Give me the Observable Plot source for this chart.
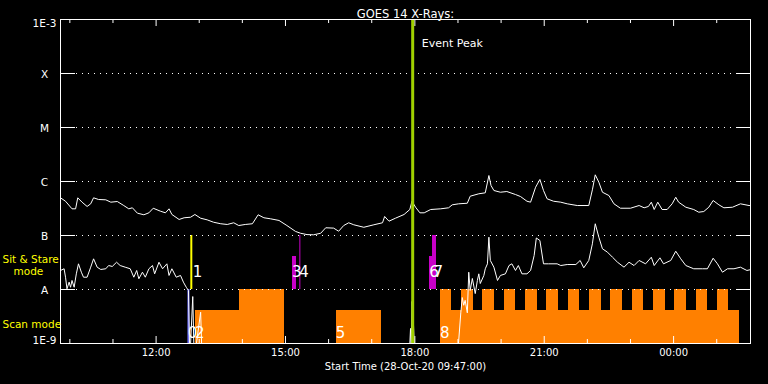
<!DOCTYPE html>
<html><head><meta charset="utf-8">
<script src="https://cdn.jsdelivr.net/npm/d3@7"></script>
<script src="https://cdn.jsdelivr.net/npm/@observablehq/plot@0.6"></script>
<style>html,body{margin:0;padding:0;background:#000;} #chart svg{display:block}</style>
</head><body><div id="chart"></div>
<script>
// ---------- data ----------
const startTime = "2020-10-28T09:47:00Z";
const endTime = "2020-10-29T01:47:00Z";
const titleText = "GOES 14 X-Rays:";
const xLabelText = "Start Time (28-Oct-20 09:47:00)";

// GOES long channel (1-8 A), W/m^2
const longTimes = ["09:47","09:54","10:03","10:08","10:11","10:17","10:24","10:29","10:33","10:40","10:50","10:57","11:06","11:15","11:22","11:27","11:34","11:43","11:50","11:56","12:06","12:13","12:18","12:22","12:32","12:39","12:48","12:54","13:02","13:11","13:20","13:30","13:39","13:48","13:55","14:04","14:14","14:22","14:30","14:39","14:51","15:02","15:14","15:21","15:30","15:39","15:49","15:56","16:07","16:14","16:21","16:28","16:35","16:49","17:03","17:15","17:18","17:24","17:33","17:45","17:53","17:56","18:01","18:07","18:13","18:22","18:36","18:47","18:52","19:01","19:13","19:17","19:29","19:38","19:43","19:46","19:50","19:59","20:08","20:20","20:27","20:36","20:41","20:48","20:54","20:59","21:04","21:13","21:23","21:32","21:46","22:02","22:07","22:11","22:16","22:21","22:30","22:37","22:46","23:00","23:12","23:19","23:25","23:29","23:33","23:38","23:44","23:51","23:58","00:03","00:07","00:17","00:28","00:35","00:42","00:49","00:55","01:03","01:10","01:22","01:33","01:45","01:47"];
const longFlux = [4.99e-7,4.31e-7,3.12e-7,3.12e-7,4.99e-7,4.14e-7,3.45e-7,3.86e-7,4.99e-7,4.64e-7,4.58e-7,4.14e-7,4.26e-7,3.59e-7,3.12e-7,3.26e-7,2.59e-7,2.42e-7,2.63e-7,3.20e-7,2.82e-7,2.63e-7,3.12e-7,2.45e-7,1.98e-7,2.13e-7,2.18e-7,2.45e-7,2.09e-7,1.95e-7,1.76e-7,1.65e-7,1.60e-7,1.72e-7,1.53e-7,1.60e-7,1.65e-7,2.42e-7,2.13e-7,2.04e-7,1.90e-7,1.53e-7,1.19e-7,1.10e-7,1.04e-7,1.03e-7,1.10e-7,1.39e-7,1.37e-7,1.20e-7,1.53e-7,1.72e-7,1.58e-7,1.42e-7,1.58e-7,1.72e-7,2.25e-7,1.84e-7,2.09e-7,2.45e-7,3.03e-7,4.31e-7,3.34e-7,2.63e-7,2.63e-7,3.03e-7,3.12e-7,3.26e-7,3.70e-7,3.86e-7,3.96e-7,5.34e-7,5.92e-7,6.17e-7,1.29e-6,8.42e-7,6.81e-7,6.33e-7,6.52e-7,5.74e-7,5.27e-7,4.31e-7,4.14e-7,7.83e-7,1.09e-6,6.81e-7,4.78e-7,4.31e-7,4.14e-7,3.86e-7,3.59e-7,3.59e-7,7.01e-7,1.33e-6,9.7e-7,6.33e-7,5.50e-7,3.86e-7,3.20e-7,3.20e-7,3.59e-7,3.26e-7,3.45e-7,4.14e-7,3.03e-7,4.14e-7,3.03e-7,3.03e-7,3.86e-7,5.11e-7,4.14e-7,3.34e-7,3.03e-7,2.70e-7,2.78e-7,3.34e-7,4.45e-7,3.70e-7,3.26e-7,3.34e-7,3.86e-7,3.59e-7,3.60e-7];

// GOES short channel (0.5-4 A), W/m^2 (null = no data)
const shortTimes = ["09:47","09:52","09:54","09:56","09:59","10:01","10:03","10:06","10:09","10:12","10:16","10:19","10:24","10:29","10:33","10:38","10:43","10:50","10:54","10:59","11:05","11:10","11:17","11:24","11:29","11:33","11:36","11:41","11:45","11:50","11:55","11:58","12:04","12:09","12:15","12:18","12:22","12:28","12:34","12:38","12:42","12:45","12:47","12:51","12:53","13:02","13:04","15:00","17:52","17:54","17:55","17:56","17:58","18:00","18:30","18:59","19:04","19:06","19:08","19:10","19:13","19:15","19:17","19:20","19:24","19:27","19:29","19:31","19:36","19:38","19:41","19:43","19:45","19:50","19:55","19:59","20:06","20:11","20:15","20:20","20:24","20:29","20:36","20:41","20:46","20:49","20:54","20:59","21:06","21:18","21:23","21:32","21:44","21:50","21:55","22:02","22:07","22:11","22:16","22:21","22:28","22:35","22:42","22:51","22:58","23:05","23:12","23:21","23:29","23:33","23:41","23:46","23:56","00:03","00:10","00:17","00:28","00:40","00:47","00:55","01:01","01:08","01:15","01:24","01:33","01:42","01:47"];
const shortFlux = [2.25e-8,2.42e-8,1.69e-8,1.03e-8,1.37e-8,1.10e-8,1.47e-8,1.10e-8,1.95e-8,2.99e-8,2.09e-8,1.69e-8,1.69e-8,2.59e-8,3.70e-8,2.59e-8,2.35e-8,2.42e-8,2.78e-8,2.67e-8,3.20e-8,2.78e-8,2.59e-8,2.42e-8,1.69e-8,2.25e-8,1.58e-8,2.09e-8,1.69e-8,2.42e-8,2.78e-8,1.95e-8,3.20e-8,2.42e-8,2.99e-8,1.82e-8,2.42e-8,1.69e-8,1.82e-8,1.37e-8,1.10e-8,9.6e-9,5e-10,7.4e-9,5e-10,3.8e-9,5e-10,null,5e-10,1.9e-9,8e-10,6.0e-9,2.5e-9,5e-10,null,5e-10,3.8e-9,7.1e-9,5.1e-9,6.3e-9,3.7e-9,2.09e-8,9.6e-9,1.6e-8,8.4e-9,1.47e-8,1.95e-8,1.29e-8,1.82e-8,2.42e-8,2.99e-8,9.3e-8,3.45e-8,2.59e-8,1.47e-8,1.82e-8,1.95e-8,2.78e-8,2.99e-8,2.25e-8,2.78e-8,1.95e-8,1.95e-8,2.25e-8,4.26e-8,9.0e-8,8.08e-8,2.99e-8,2.99e-8,2.99e-8,2.78e-8,2.90e-8,2.90e-8,3.45e-8,2.52e-8,3.45e-8,7.01e-8,1.65e-7,9.3e-8,5.67e-8,4.91e-8,3.96e-8,3.20e-8,2.59e-8,3.20e-8,2.78e-8,3.45e-8,2.99e-8,3.96e-8,2.78e-8,3.86e-8,2.99e-8,3.45e-8,5.11e-8,3.70e-8,2.78e-8,2.42e-8,2.42e-8,2.42e-8,3.80e-8,2.99e-8,2.09e-8,2.42e-8,2.42e-8,2.59e-8,2.25e-8,2.33e-8];

// Scan mode blocks (orange)
const scanStart = ["12:55","13:56","16:11","18:36","18:51","19:05","19:22","19:34","19:51","20:05","20:20","20:34","20:51","21:03","21:20","21:34","21:49","22:03","22:20","22:32","22:49","23:03","23:18","23:32","23:49","00:01","00:18","00:32","00:47","01:01","01:16"];
const scanEnd   = ["13:56","14:59","17:14","18:51","19:05","19:22","19:34","19:51","20:05","20:20","20:34","20:51","21:03","21:20","21:34","21:49","22:03","22:20","22:32","22:49","23:03","23:18","23:32","23:49","00:01","00:18","00:32","00:47","01:01","01:16","01:32"];
const scanTop   = [4.1e-9,1e-8,4.1e-9,1e-8,4.1e-9,1e-8,4.1e-9,1e-8,4.1e-9,1e-8,4.1e-9,1e-8,4.1e-9,1e-8,4.1e-9,1e-8,4.1e-9,1e-8,4.1e-9,1e-8,4.1e-9,1e-8,4.1e-9,1e-8,4.1e-9,1e-8,4.1e-9,1e-8,4.1e-9,1e-8,4.1e-9];

// Sit & stare blocks (magenta)
const stareStart = ["15:10","18:20","18:24"];
const stareEnd   = ["15:15","18:30","18:30"];
const stareTop   = [4.1e-8,4.1e-8,1e-7];

// Single-time markers
const blueTime = "12:45";
const yellowTime = "12:49";
const magentaTime = "15:20";
const peakTime = "17:57";
const peakText = "Event Peak";

// Event numbers
const eventLabels = ["0","1","2","3","4","5","6","7","8"];
const eventTimes  = ["12:44","12:51","12:54","15:09","15:19","16:10","18:20","18:26","18:35"];
const eventFlux   = [1.53e-9,2.07e-8,1.53e-9,2.07e-8,2.07e-8,1.53e-9,2.07e-8,2.07e-8,1.53e-9];

// Axes
const yTickValues = [1e-9,1e-8,1e-7,1e-6,1e-5,1e-4,1e-3];
const yTickLabels = ["1E-9","A","B","C","M","X","1E-3"];
const majorTickTimes = ["12:00","15:00","18:00","21:00","00:00"];
const minorTickTimes = ["10:00","11:00","13:00","14:00","16:00","17:00","19:00","20:00","22:00","23:00","01:00"];

// ---------- helpers ----------
function toDate(hm) {
  const [h, m] = hm.split(":").map(Number);
  const day = h < 9 ? 29 : 28;
  return new Date(Date.UTC(2020, 9, day, h, m));
}
const longData = longTimes.map((t, i) => ({t: toDate(t), f: longFlux[i]}));
const shortData = shortTimes.map((t, i) => ({t: toDate(t), f: shortFlux[i]}));
const scanData = scanStart.map((s, i) => ({a: toDate(s), b: toDate(scanEnd[i]), top: scanTop[i]}));
const stareData = stareStart.map((s, i) => ({a: toDate(s), b: toDate(stareEnd[i]), top: stareTop[i]}));
const eventData = eventLabels.map((l, i) => ({l, t: toDate(eventTimes[i]), f: eventFlux[i]}));
const yMid = yTickValues.slice(1, -1).map((v, i) => ({v, l: yTickLabels[i + 1]}));
const majors = majorTickTimes.map(toDate);
const minors = minorTickTimes.map(toDate);

const FONT = "DejaVu Sans";
const W = "#ffffff";

const chart = Plot.plot({
  width: 768, height: 384,
  marginLeft: 60, marginRight: 18, marginTop: 19, marginBottom: 41,
  style: {background: "#000", color: W, fontFamily: FONT, fontSize: "10px", overflow: "visible"},
  x: {type: "utc", domain: [new Date(startTime), new Date(endTime)], axis: null},
  y: {type: "log", domain: [1e-9, 1e-3], axis: null},
  marks: [
    // scan-mode blocks
    Plot.rect(scanData, {x1: "a", x2: "b", y1: () => 1e-9, y2: "top", fill: "#ff8000", shapeRendering: "crispEdges"}),
    // sit & stare blocks
    Plot.rect(stareData, {x1: "a", x2: "b", y1: () => 1e-8, y2: "top", fill: "#c800c8", shapeRendering: "crispEdges"}),
    Plot.ruleX([toDate(magentaTime)], {x: d => d, y1: 1e-8, y2: 1e-7, stroke: "#c800c8", strokeWidth: 1}),
    Plot.ruleX([toDate(blueTime)], {x: d => d, y1: 1e-9, y2: 1e-8, stroke: "#7070ff", strokeWidth: 2}),
    Plot.ruleX([toDate(yellowTime)], {x: d => d, y1: 1e-8, y2: 1e-7, stroke: "#ffff00", strokeWidth: 2}),
    // grid
    Plot.tickY(yMid, {y: "v", stroke: W, strokeDasharray: "1,5", insetLeft: 16, insetRight: 15}),
    Plot.tickY(yMid, {y: "v", stroke: W, insetRight: 675}),
    Plot.tickY(yMid, {y: "v", stroke: W, insetLeft: 676}),
    // x ticks
    Plot.tickX(majors, {x: d => d, stroke: W, insetTop: 317}),
    Plot.tickX(minors, {x: d => d, stroke: W, insetTop: 320}),
    Plot.tickX(majors, {x: d => d, stroke: W, insetBottom: 317}),
    Plot.tickX(minors, {x: d => d, stroke: W, insetBottom: 320}),
    // curves
    Plot.line(longData, {x: "t", y: "f", stroke: W, strokeWidth: 1, clip: "frame"}),
    Plot.line(shortData, {x: "t", y: "f", stroke: W, strokeWidth: 1, clip: "frame"}),
    // event peak
    Plot.ruleX([toDate(peakTime)], {x: d => d, stroke: "#a0d000", strokeWidth: 3}),
    Plot.text([toDate(peakTime)], {x: d => d, y: () => 3.6e-4, text: () => peakText, dx: 9, textAnchor: "start", fill: W, fontSize: 11}),
    // event numbers
    Plot.text(eventData, {x: "t", y: "f", text: "l", textAnchor: "start", fill: W, fontSize: 15}),
    Plot.frame({stroke: W}),
    // y labels
    Plot.text(yMid, {y: "v", text: "l", frameAnchor: "left", dx: -16, dy: 1, textAnchor: "middle", fill: W, fontSize: 10.5}),
    Plot.text([yTickLabels[6]], {y: () => yTickValues[6], text: d => d, frameAnchor: "left", dx: -16, lineAnchor: "top", textAnchor: "middle", fill: W, fontSize: 10.5}),
    Plot.text([yTickLabels[0]], {y: () => yTickValues[0], text: d => d, frameAnchor: "left", dx: -16, lineAnchor: "bottom", textAnchor: "middle", fill: W, fontSize: 10.5}),
    // mode labels
    Plot.text(["Sit & Stare"], {y: () => 3.6e-8, text: d => d, frameAnchor: "left", dx: -58, textAnchor: "start", fill: "#ffff00", fontSize: 10.5}),
    Plot.text(["mode"], {y: () => 2.15e-8, text: d => d, frameAnchor: "left", dx: -47, textAnchor: "start", fill: "#ffff00", fontSize: 10.5}),
    Plot.text(["Scan mode"], {y: () => 2.25e-9, text: d => d, frameAnchor: "left", dx: -58, textAnchor: "start", fill: "#ffff00", fontSize: 10.5}),
    // x labels
    Plot.text(majors, {x: d => d, text: (d, i) => majorTickTimes[i], frameAnchor: "bottom", dy: 12, fill: W, fontSize: 10}),
    Plot.text([xLabelText], {text: d => d, frameAnchor: "bottom", dy: 26, fill: W, fontSize: 10}),
    Plot.text([titleText], {text: d => d, frameAnchor: "top", dy: -10, fill: W, fontSize: 11.5})
  ]
});
document.getElementById("chart").append(chart);
</script>
</body></html>
